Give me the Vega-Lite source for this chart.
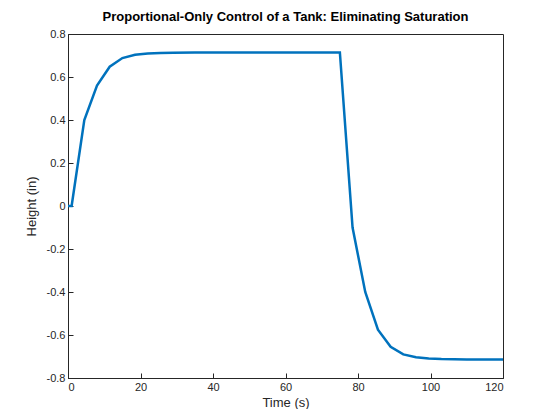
{
  "$schema": "https://vega.github.io/schema/vega-lite/v6.json",
  "width": 435,
  "height": 344,
  "padding": {"left": 25, "top": 11, "right": 0, "bottom": 0},
  "background": "white",
  "title": {"text": "Proportional-Only Control of a Tank: Eliminating Saturation", "font": "Liberation Sans", "fontSize": 13, "fontWeight": "bold", "color": "#000", "offset": 4},
  "data": {"values": [
    {"t": 0, "h": 0}, {"t": 1, "h": 0}, {"t": 4.5, "h": 0.4}, {"t": 8, "h": 0.56},
    {"t": 11.5, "h": 0.648}, {"t": 15, "h": 0.688}, {"t": 18.5, "h": 0.703},
    {"t": 22, "h": 0.709}, {"t": 25.5, "h": 0.712}, {"t": 29, "h": 0.713},
    {"t": 35, "h": 0.714}, {"t": 75, "h": 0.714},
    {"t": 78.5, "h": -0.1}, {"t": 82, "h": -0.4}, {"t": 85.5, "h": -0.575},
    {"t": 89, "h": -0.655}, {"t": 92.5, "h": -0.69}, {"t": 96, "h": -0.703},
    {"t": 99.5, "h": -0.709}, {"t": 103, "h": -0.712}, {"t": 110, "h": -0.714},
    {"t": 120, "h": -0.714}
  ]},
  "mark": {"type": "line", "color": "#0072BD", "strokeWidth": 2.5},
  "encoding": {
    "x": {"field": "t", "type": "quantitative", "scale": {"domain": [0, 120], "nice": false},
      "axis": {"values": [0, 20, 40, 60, 80, 100, 120], "title": "Time (s)"}},
    "y": {"field": "h", "type": "quantitative", "scale": {"domain": [-0.8, 0.8], "nice": false},
      "axis": {"values": [-0.8, -0.6, -0.4, -0.2, 0, 0.2, 0.4, 0.6, 0.8], "title": "Height (in)", "format": "~g",
        "labelExpr": "replace(datum.label, '−', '-')"}}
  },
  "config": {
    "view": {"stroke": "#262626", "strokeWidth": 1},
    "axis": {"grid": false, "domainColor": "#262626", "tickColor": "#262626", "tickSize": -5,
      "labelPadding": 8, "labelFont": "Liberation Sans", "labelFontSize": 11, "labelColor": "#262626",
      "titleFont": "Liberation Sans", "titleFontSize": 13, "titleFontWeight": "normal", "titleColor": "#262626"},
    "axisX": {"titlePadding": 4},
    "axisY": {"titlePadding": 8}
  }
}
